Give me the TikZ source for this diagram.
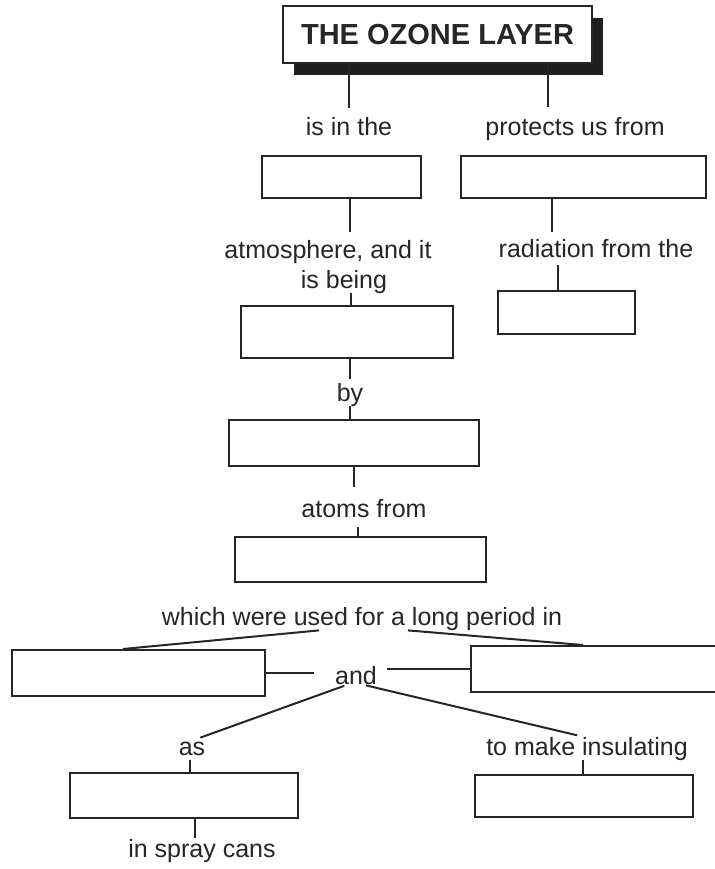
\documentclass[tikz,border=0pt]{standalone}
\usepackage{fontspec}
\setmainfont{Liberation Sans}
\usetikzlibrary{shadows}

\tikzset{
  ink/.style={draw=black!85, line width=2pt},
  cbox/.style={ink, rectangle, inner sep=0pt, fill=white},
  lab/.style={inner sep=0pt, anchor=base, text=black!85,
    font=\fontsize{25}{28}\selectfont},
  titlebox/.style={ink, rectangle, inner sep=0pt, fill=white,
    font=\fontsize{29}{32}\selectfont\bfseries, text=black!85,
    general shadow={fill=black!88, shadow xshift=11pt, shadow yshift=-12pt}},
  link/.style={ink},
}

\begin{document}
\begin{tikzpicture}[x=1pt, y=-1pt]
  \fill[white] (0,0) rectangle (714,869);
  \useasboundingbox (0,0) rectangle (714,869);

  % title
  \node[titlebox, minimum width=309, minimum height=57] (T) at (437.5,34.5) {THE OZONE LAYER};

  % empty boxes to be filled in
  \node[cbox, minimum width=159, minimum height=42] (b1) at (341.5,177) {};
  \node[cbox, minimum width=245, minimum height=42] (b2) at (583.5,177) {};
  \node[cbox, minimum width=212, minimum height=52] (b3) at (347,332) {};
  \node[cbox, minimum width=137, minimum height=43] (b4) at (566.5,312.5) {};
  \node[cbox, minimum width=250, minimum height=46] (b5) at (354,443) {};
  \node[cbox, minimum width=251, minimum height=45] (b6) at (360.5,559.5) {};
  \node[cbox, minimum width=253, minimum height=46] (b7) at (138.5,673) {};
  \node[cbox, minimum width=289, minimum height=46] (b8) at (615.5,669) {};
  \node[cbox, minimum width=228, minimum height=45] (b9) at (184,795.5) {};
  \node[cbox, minimum width=218, minimum height=42] (b10) at (584,796) {};

  % linking words
  \node[lab] (l1)  at (349,136) {is in the};
  \node[lab] (l2)  at (575,136) {protects us from};
  \node[lab] (l3a) at (328,258) {atmosphere, and it};
  \node[lab] (l3b) at (344,288) {is being};
  \node[lab] (l4)  at (596,257) {radiation from the};
  \node[lab] (l5)  at (350,401) {by};
  \node[lab] (l6)  at (364,517) {atoms from};
  \node[lab] (l7)  at (362,625) {which were used for a long period in};
  \node[lab] (l8)  at (356,684) {and};
  \node[lab] (l9)  at (192,755) {as};
  \node[lab] (l10) at (587,755) {to make insulating};
  \node[lab] (l11) at (202,857) {in spray cans};

  % columns used by the connectors
  \coordinate (ca) at (349,0);
  \coordinate (cb) at (548,0);
  \coordinate (cc) at (350,0);
  \coordinate (cd) at (351,0);
  \coordinate (ce) at (552,0);
  \coordinate (cf) at (558,0);
  \coordinate (cg) at (354,0);
  \coordinate (ch) at (358,0);
  \coordinate (ci) at (319,0);
  \coordinate (cj) at (123,0);
  \coordinate (ck) at (408,0);
  \coordinate (cl) at (583,0);
  \coordinate (cm) at (348,0);
  \coordinate (cn) at (190,0);
  \coordinate (co) at (362,0);
  \coordinate (cp) at (583,0);
  \coordinate (cq) at (195,0);

  % connectors
  \draw[link, shorten >=10pt] (T.south -| ca) -- (l1.north -| ca);
  \draw[link, shorten >=11pt] (T.south -| cb) -- (l2.north -| cb);
  \draw[link, shorten >=8pt] (b1.south -| cc) -- (l3a.north -| cc);
  \draw[link] (l3b.south -| cd) -- (b3.north -| cd);
  \draw[link, shorten >=7pt] (b2.south -| ce) -- (l4.north -| ce);
  \draw[link, shorten <=8pt] (l4.south -| cf) -- (b4.north -| cf);
  \draw[link, shorten >=4pt] (b3.south -| cc) -- (l5.north -| cc);
  \draw[link] (l5.south -| cc) -- (b5.north -| cc);
  \draw[link, shorten >=12pt] (b5.south -| cg) -- (l6.north -| cg);
  \draw[link, shorten <=10pt] (l6.south -| ch) -- (b6.north -| ch);
  \draw[link] (l7.south -| ci) -- (b7.north -| cj);
  \draw[link] (l7.south -| ck) -- (b8.north -| cl);
  \draw[link, shorten >=21pt] (b7.east) -- (l8.west |- b7.east);
  \draw[link, shorten <=10pt] (l8.east |- b8.west) -- (b8.west);
  \draw[link, shorten <=4pt, shorten >=11pt] (l8.south -| cm) -- (l9.north -| cn);
  \draw[link, shorten <=4pt, shorten >=6pt] (l8.south -| co) -- (l10.north -| cp);
  \draw[link, shorten <=5pt] (l9.south -| cn) -- (b9.north -| cn);
  \draw[link] (l10.south -| cp) -- (b10.north -| cp);
  \draw[link, shorten >=1pt] (b9.south -| cq) -- (l11.north -| cq);
\end{tikzpicture}
\end{document}
